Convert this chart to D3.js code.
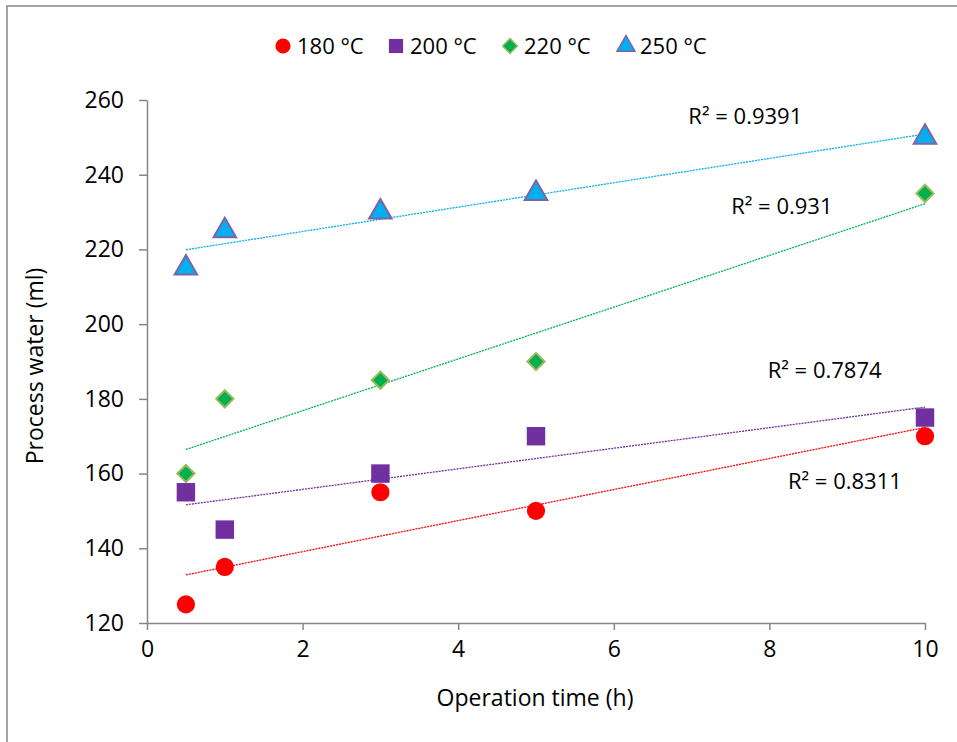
<!DOCTYPE html>
<html lang="en">
<head>
  <meta charset="UTF-8">
  <title>Process water vs operation time</title>
  <script src="https://d3js.org/d3.v7.min.js"></script>
  <style>
    body { margin: 0; background: #fff; }
    text { font-family: "Open Sans", "Noto Sans", sans-serif; fill: #000; }
    .axis text { font-size: 23px; font-family: "Open Sans", sans-serif; }
    .axis path, .axis line { stroke: #868686; stroke-width: 1.5; }
  </style>
</head>
<body>
  <svg width="957" height="742"></svg>

  <script>
    // series data
    const times = [0.5, 1, 3, 5, 10];
    const water180 = [125, 135, 155, 150, 170];
    const water200 = [155, 145, 160, 170, 175];
    const water220 = [160, 180, 185, 190, 235];
    const water250 = [215, 225, 230, 235, 250];
    const seriesNames = ["180 °C", "200 °C", "220 °C", "250 °C"];
    const r2Labels = ["R² = 0.8311", "R² = 0.7874", "R² = 0.931", "R² = 0.9391"];
    // label anchors in data units (time, ml)
    const r2LabelX = [8.97, 8.71, 8.16, 7.69];
    const r2LabelY = [156, 185.5, 229.5, 253.5];
    const xTicks = [0, 2, 4, 6, 8, 10];
    const yTicks = [120, 140, 160, 180, 200, 220, 240, 260];

    const svg = d3.select("svg");

    // outer chart border
    svg.append("rect")
      .attr("x", 7).attr("y", 6)
      .attr("width", 1000).attr("height", 800)
      .attr("fill", "none")
      .attr("stroke", "#868686")
      .attr("stroke-width", 1.5);

    const x = d3.scaleLinear().domain([0, 10]).range([147, 925]);
    const y = d3.scaleLinear().domain([120, 260]).range([623, 100]);

    const series = [
      { name: seriesNames[0], values: water180, color: "#ff0000", line: "#ff0000", shape: "circle" },
      { name: seriesNames[1], values: water200, color: "#7030a0", line: "#7030a0", shape: "square" },
      { name: seriesNames[2], values: water220, color: "#00b050", line: "#00b050", shape: "diamond" },
      { name: seriesNames[3], values: water250, color: "#00b0f0", line: "#00b0f0", shape: "triangle" }
    ];

    // axes
    svg.append("g")
      .attr("class", "axis")
      .attr("transform", `translate(0,${y(120)})`)
      .call(d3.axisBottom(x).tickValues(xTicks).tickSize(7).tickPadding(11).tickSizeOuter(0));

    svg.append("g")
      .attr("class", "axis")
      .attr("transform", `translate(${x(0)},0)`)
      .call(d3.axisLeft(y).tickValues(yTicks).tickSize(8).tickPadding(15).tickSizeOuter(0));

    // axis titles
    svg.append("text")
      .attr("x", 535).attr("y", 706)
      .attr("text-anchor", "middle")
      .style("font-size", "23px")
      .text("Operation time (h)");

    svg.append("text")
      .attr("transform", "translate(43,366) rotate(-90)")
      .attr("text-anchor", "middle")
      .style("font-size", "23px")
      .text("Process water (ml)");

    // linear trendlines (least squares)
    function fit(vals) {
      const mx = d3.mean(times), my = d3.mean(vals);
      const sxy = d3.sum(times, (t, i) => (t - mx) * (vals[i] - my));
      const sxx = d3.sum(times, t => (t - mx) * (t - mx));
      const b = sxy / sxx;
      return t => my + b * (t - mx);
    }

    series.forEach(s => {
      const f = fit(s.values);
      const t0 = d3.min(times), t1 = d3.max(times);
      svg.append("line")
        .attr("x1", x(t0)).attr("y1", y(f(t0)))
        .attr("x2", x(t1)).attr("y2", y(f(t1)))
        .attr("stroke", s.line)
        .attr("stroke-width", 1.3)
        .attr("stroke-dasharray", "2,1");
    });

    // markers
    const symbolFor = {
      circle: d3.symbol().type(d3.symbolCircle).size(260),
      square: d3.symbol().type(d3.symbolSquare).size(340),
      diamond: d3.symbol().type(d3.symbolDiamond2).size(190),
      triangle: d3.symbol().type(d3.symbolTriangle).size(220)
    };

    function styleMarker(sel, s) {
      sel.attr("d", symbolFor[s.shape]()).attr("fill", s.color);
      if (s.shape === "diamond") sel.attr("stroke", "#9bbb59").attr("stroke-width", 2);
      if (s.shape === "triangle") sel.attr("stroke", "#8064a2").attr("stroke-width", 2);
    }

    series.forEach(s => {
      svg.append("g")
        .selectAll("path")
        .data(s.values)
        .join("path")
        .attr("transform", (d, i) => `translate(${x(times[i])},${y(d)})`)
        .call(sel => styleMarker(sel, s));
    });

    // R² labels
    r2Labels.forEach((t, i) => {
      svg.append("text")
        .attr("x", x(r2LabelX[i])).attr("y", y(r2LabelY[i]))
        .attr("text-anchor", "middle")
        .style("font-size", "22px")
        .text(t);
    });

    // legend
    const legendX = [283, 396, 510, 626];
    const legend = svg.append("g").attr("transform", "translate(0,46)");
    series.forEach((s, i) => {
      const g = legend.append("g").attr("transform", `translate(${legendX[i]},0)`);
      const m = g.append("path");
      styleMarker(m, s);
      m.attr("d", d3.symbol().type({
        circle: d3.symbolCircle, square: d3.symbolSquare,
        diamond: d3.symbolDiamond2, triangle: d3.symbolTriangle
      }[s.shape]).size(s.shape === "circle" ? 180 : s.shape === "square" ? 200 : 140)());
      if (s.shape !== "circle" && s.shape !== "square") m.attr("stroke-width", 1.5);
      g.append("text")
        .attr("x", 14).attr("y", 8)
        .style("font-size", "22px")
        .text(s.name);
    });
  </script>
</body>
</html>
